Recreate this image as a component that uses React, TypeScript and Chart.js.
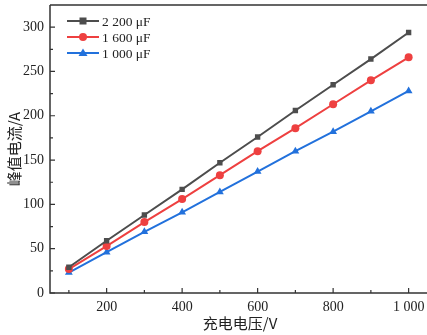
import React, { useEffect, useRef } from "react";
import { Chart, registerables } from "chart.js";

Chart.register(...registerables);

const voltages = [100, 200, 300, 400, 500, 600, 700, 800, 900, 1000];
const series2200 = [29, 59, 88, 117, 147, 176, 206, 235, 264, 294];
const series1600 = [27, 53, 80, 106, 133, 160, 186, 213, 240, 266];
const series1000 = [23, 46, 69, 91, 114, 137, 160, 182, 205, 228];
const seriesLabels = ["2 200 μF", "1 600 μF", "1 000 μF"];
const seriesColors = ["#4d4d4d", "#ee4040", "#2271dc"];
const seriesMarkers = ["rect", "circle", "triangle"];
const xTicks = [100, 200, 300, 400, 500, 600, 700, 800, 900, 1000];
const xMajor = [200, 400, 600, 800, 1000];
const yTicks = [0, 25, 50, 75, 100, 125, 150, 175, 200, 225, 250, 275, 300];
const yMajor = [0, 50, 100, 150, 200, 250, 300];
const xTitle = "充电电压/V";
const yTitle = "峰值电流/A";

const SERIF = "'Liberation Serif', 'Times New Roman', serif";
const CJK = "'Noto Sans CJK SC', 'Liberation Serif', serif";

function fmt(v: number): string {
  if (v >= 1000) {
    const s = String(v);
    return s.slice(0, s.length - 3) + " " + s.slice(s.length - 3);
  }
  return String(v);
}

const framePlugin = {
  id: "frame",
  afterDraw(chart: any) {
    const { ctx, chartArea } = chart;
    const xs = chart.scales.x;
    const ys = chart.scales.y;
    const { left, right, top, bottom } = chartArea;
    ctx.save();
    ctx.strokeStyle = "#333333";
    ctx.lineWidth = 1.5;
    ctx.beginPath();
    ctx.moveTo(left, top);
    ctx.lineTo(right, top);
    ctx.moveTo(left, top);
    ctx.lineTo(left, bottom);
    ctx.lineTo(right, bottom);
    ctx.stroke();
    ctx.lineWidth = 1.2;
    ctx.beginPath();
    for (const v of xTicks) {
      const px = xs.getPixelForValue(v);
      const len = xMajor.includes(v) ? 5 : 3;
      ctx.moveTo(px, bottom);
      ctx.lineTo(px, bottom - len);
    }
    for (const v of yTicks) {
      const py = ys.getPixelForValue(v);
      const len = yMajor.includes(v) ? 5 : 3;
      ctx.moveTo(left, py);
      ctx.lineTo(left + len, py);
    }
    ctx.stroke();

    // axis titles
    ctx.fillStyle = "#222222";
    ctx.font = `15px ${CJK}`;
    ctx.textAlign = "center";
    ctx.textBaseline = "middle";
    ctx.fillText(xTitle, (left + 430) / 2, 323);
    ctx.save();
    ctx.translate(14, (top + bottom) / 2);
    ctx.rotate(-Math.PI / 2);
    ctx.fillText(yTitle, 0, 0);
    ctx.restore();

    // legend
    const lx0 = 67;
    const lx1 = 99;
    const rows = [21, 37, 53];
    for (let i = 0; i < 3; i++) {
      const y = rows[i];
      const c = seriesColors[i];
      ctx.strokeStyle = c;
      ctx.fillStyle = c;
      ctx.lineWidth = 2;
      ctx.beginPath();
      ctx.moveTo(lx0, y);
      ctx.lineTo(lx1, y);
      ctx.stroke();
      const mx = (lx0 + lx1) / 2;
      ctx.beginPath();
      if (seriesMarkers[i] === "rect") {
        ctx.fillRect(mx - 3.5, y - 3.5, 7, 7);
      } else if (seriesMarkers[i] === "circle") {
        ctx.arc(mx, y, 4, 0, Math.PI * 2);
        ctx.fill();
      } else {
        ctx.moveTo(mx, y - 4.5);
        ctx.lineTo(mx + 4.5, y + 3);
        ctx.lineTo(mx - 4.5, y + 3);
        ctx.closePath();
        ctx.fill();
      }
      ctx.fillStyle = "#222222";
      ctx.font = `13.5px ${SERIF}`;
      ctx.textAlign = "left";
      ctx.textBaseline = "middle";
      ctx.fillText(seriesLabels[i], lx1 + 3, y + 1);
    }
    ctx.restore();
  },
};

export default function App() {
  const ref = useRef<HTMLCanvasElement | null>(null);
  useEffect(() => {
    if (!ref.current) return;
    const allSeries = [series2200, series1600, series1000];
    const chart = new Chart(ref.current, {
      type: "line",
      data: {
        labels: voltages,
        datasets: allSeries.map((s, i) => ({
          label: seriesLabels[i],
          data: voltages.map((v, j) => ({ x: v, y: s[j] })),
          borderColor: seriesColors[i],
          backgroundColor: seriesColors[i],
          borderWidth: 2,
          pointStyle: seriesMarkers[i] as any,
          pointRadius: seriesMarkers[i] === "rect" ? 3.8 : seriesMarkers[i] === "circle" ? 4 : 4.5,
          pointBorderWidth: 0,
          tension: 0,
        })),
      },
      options: {
        animation: false,
        responsive: false,
        maintainAspectRatio: false,
        layout: { padding: { top: 5, right: 2, left: 0, bottom: 0 } },
        plugins: { legend: { display: false }, tooltip: { enabled: false } },
        scales: {
          x: {
            type: "linear",
            min: 50,
            max: 1050,
            grid: { display: false, drawTicks: false },
            border: { display: false },
            afterBuildTicks: (scale: any) => {
              scale.ticks = xTicks.map((v) => ({ value: v }));
            },
            afterFit: (scale: any) => {
              scale.height = 42;
              scale.paddingLeft = 0;
              scale.paddingRight = 0;
            },
            ticks: {
              padding: 6,
              maxRotation: 0,
              autoSkip: false,
              color: "#222222",
              font: { family: SERIF, size: 14 },
              callback: (v: any) => (xMajor.includes(Number(v)) ? fmt(Number(v)) : ""),
            },
          },
          y: {
            type: "linear",
            min: 0,
            max: 325,
            grid: { display: false, drawTicks: false },
            border: { display: false },
            afterBuildTicks: (scale: any) => {
              scale.ticks = yTicks.map((v) => ({ value: v }));
            },
            afterFit: (scale: any) => {
              scale.width = 50;
              scale.paddingTop = 0;
              scale.paddingBottom = 0;
            },
            ticks: {
              padding: 6,
              autoSkip: false,
              color: "#222222",
              font: { family: SERIF, size: 14 },
              callback: (v: any) => (yMajor.includes(Number(v)) ? String(v) : ""),
            },
          },
        },
      },
      plugins: [framePlugin],
    } as any);
    return () => chart.destroy();
  }, []);
  return (
    <div style={{ position: "fixed", left: 0, top: 0, width: 427, height: 335, overflow: "hidden", background: "#fff" }}>
      <canvas ref={ref} width={432} height={335} style={{ display: "block", width: 432, height: 335 }} />
    </div>
  );
}
